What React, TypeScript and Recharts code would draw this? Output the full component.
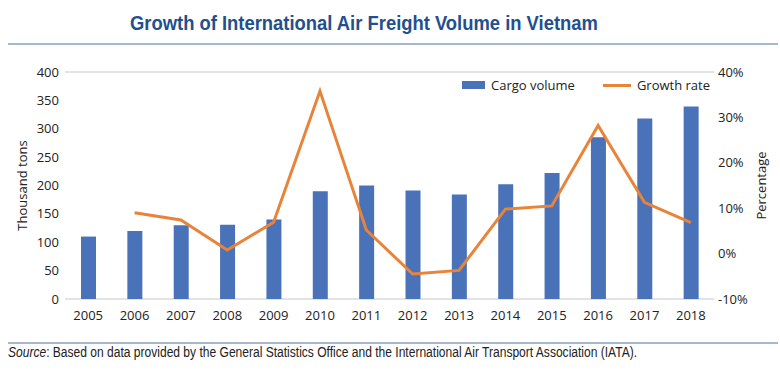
import React from "react";
import { Bar, CartesianGrid, ComposedChart, Line, XAxis, YAxis } from "recharts";

const years = ["2005", "2006", "2007", "2008", "2009", "2010", "2011", "2012", "2013", "2014", "2015", "2016", "2017", "2018"];
const cargoVolume = [110, 120, 130, 131, 140, 190, 200, 191, 184, 202, 222, 285, 318, 339];
const growthRate: (number | null)[] = [null, 9.0, 7.4, 0.8, 6.9, 35.8, 5.2, -4.5, -3.7, 9.8, 10.5, 28.2, 11.3, 6.8];
const leftTicks = [0, 50, 100, 150, 200, 250, 300, 350, 400];
const rightTicks = [-10, 0, 10, 20, 30, 40];

const data = years.map((year, i) => ({ year, cargo: cargoVolume[i], growth: growthRate[i] }));

const BLUE = "#4A72B8";
const ORANGE = "#E8843A";
const FONT = "'Open Sans', sans-serif";
const NARROW = "'Liberation Sans', sans-serif";

export default function App() {
    const tick = { fill: "#222", fontSize: 13, fontFamily: FONT };
    return (
        <div style={{ position: "absolute", left: 0, top: 0, width: 780, height: 382, background: "#fff" }}>
            <div
                style={{
                    position: "absolute",
                    left: 130,
                    top: 12,
                    whiteSpace: "nowrap",
                    transform: "scaleX(0.92)",
                    transformOrigin: "left",
                    fontFamily: NARROW,
                    fontWeight: "bold",
                    fontSize: 20,
                    color: "#234F8F",
                }}
            >
                Growth of International Air Freight Volume in Vietnam
            </div>
            <div style={{ position: "absolute", left: 8, width: 770, top: 43, height: 2, background: "#A7B8CC" }} />
            <ComposedChart
                width={780}
                height={382}
                data={data}
                margin={{ top: 72, bottom: 53, left: 20, right: 21 }}
            >
                <CartesianGrid vertical={false} stroke="#DADADA" strokeWidth={1.5} />
                <XAxis dataKey="year" axisLine={false} tickLine={false} tickSize={6} tickMargin={6} tick={tick} interval={0} height={30} />
                <YAxis
                    yAxisId="left"
                    domain={[0, 400]}
                    ticks={leftTicks}
                    axisLine={false}
                    tickLine={false}
                    tickSize={4}
                    tickMargin={2}
                    width={45}
                    tick={tick}
                    label={{ value: "Thousand tons", angle: -90, position: "insideLeft", offset: 2, style: { ...tick, textAnchor: "middle" } }}
                />
                <YAxis
                    yAxisId="right"
                    orientation="right"
                    domain={[-10, 40]}
                    ticks={rightTicks}
                    tickFormatter={(v: number) => `${v}%`}
                    axisLine={false}
                    tickLine={false}
                    tickSize={2}
                    tickMargin={2}
                    width={45}
                    tick={tick}
                    label={{ value: "Percentage", angle: -90, position: "insideRight", offset: -2, style: { ...tick, textAnchor: "middle" } }}
                />
                <Bar yAxisId="left" dataKey="cargo" name="Cargo volume" fill={BLUE} barSize={15} isAnimationActive={false} />
                <Line
                    yAxisId="right"
                    dataKey="growth"
                    name="Growth rate"
                    stroke={ORANGE}
                    strokeWidth={3}
                    dot={false}
                    type="linear"
                    isAnimationActive={false}
                />
            </ComposedChart>
            <div
                style={{
                    position: "absolute",
                    left: 462,
                    top: 76,
                    display: "flex",
                    alignItems: "center",
                    fontFamily: FONT,
                    fontSize: 13,
                    color: "#222",
                    whiteSpace: "nowrap",
                }}
            >
                <span style={{ display: "inline-block", width: 23, height: 8, background: BLUE, marginRight: 6 }} />
                <span style={{ marginRight: 28 }}>Cargo volume</span>
                <span style={{ display: "inline-block", width: 28, height: 3, background: ORANGE, marginRight: 6 }} />
                <span>Growth rate</span>
            </div>
            <div style={{ position: "absolute", left: 8, width: 770, top: 342, height: 2, background: "#A7B8CC" }} />
            <div
                style={{
                    position: "absolute",
                    left: 8,
                    top: 344,
                    whiteSpace: "nowrap",
                    transform: "scaleX(0.86)",
                    transformOrigin: "left",
                    fontFamily: NARROW,
                    fontSize: 14,
                    color: "#222",
                }}
            >
                <i>Source</i>: Based on data provided by the General Statistics Office and the International Air Transport Association (IATA).
            </div>
        </div>
    );
}
